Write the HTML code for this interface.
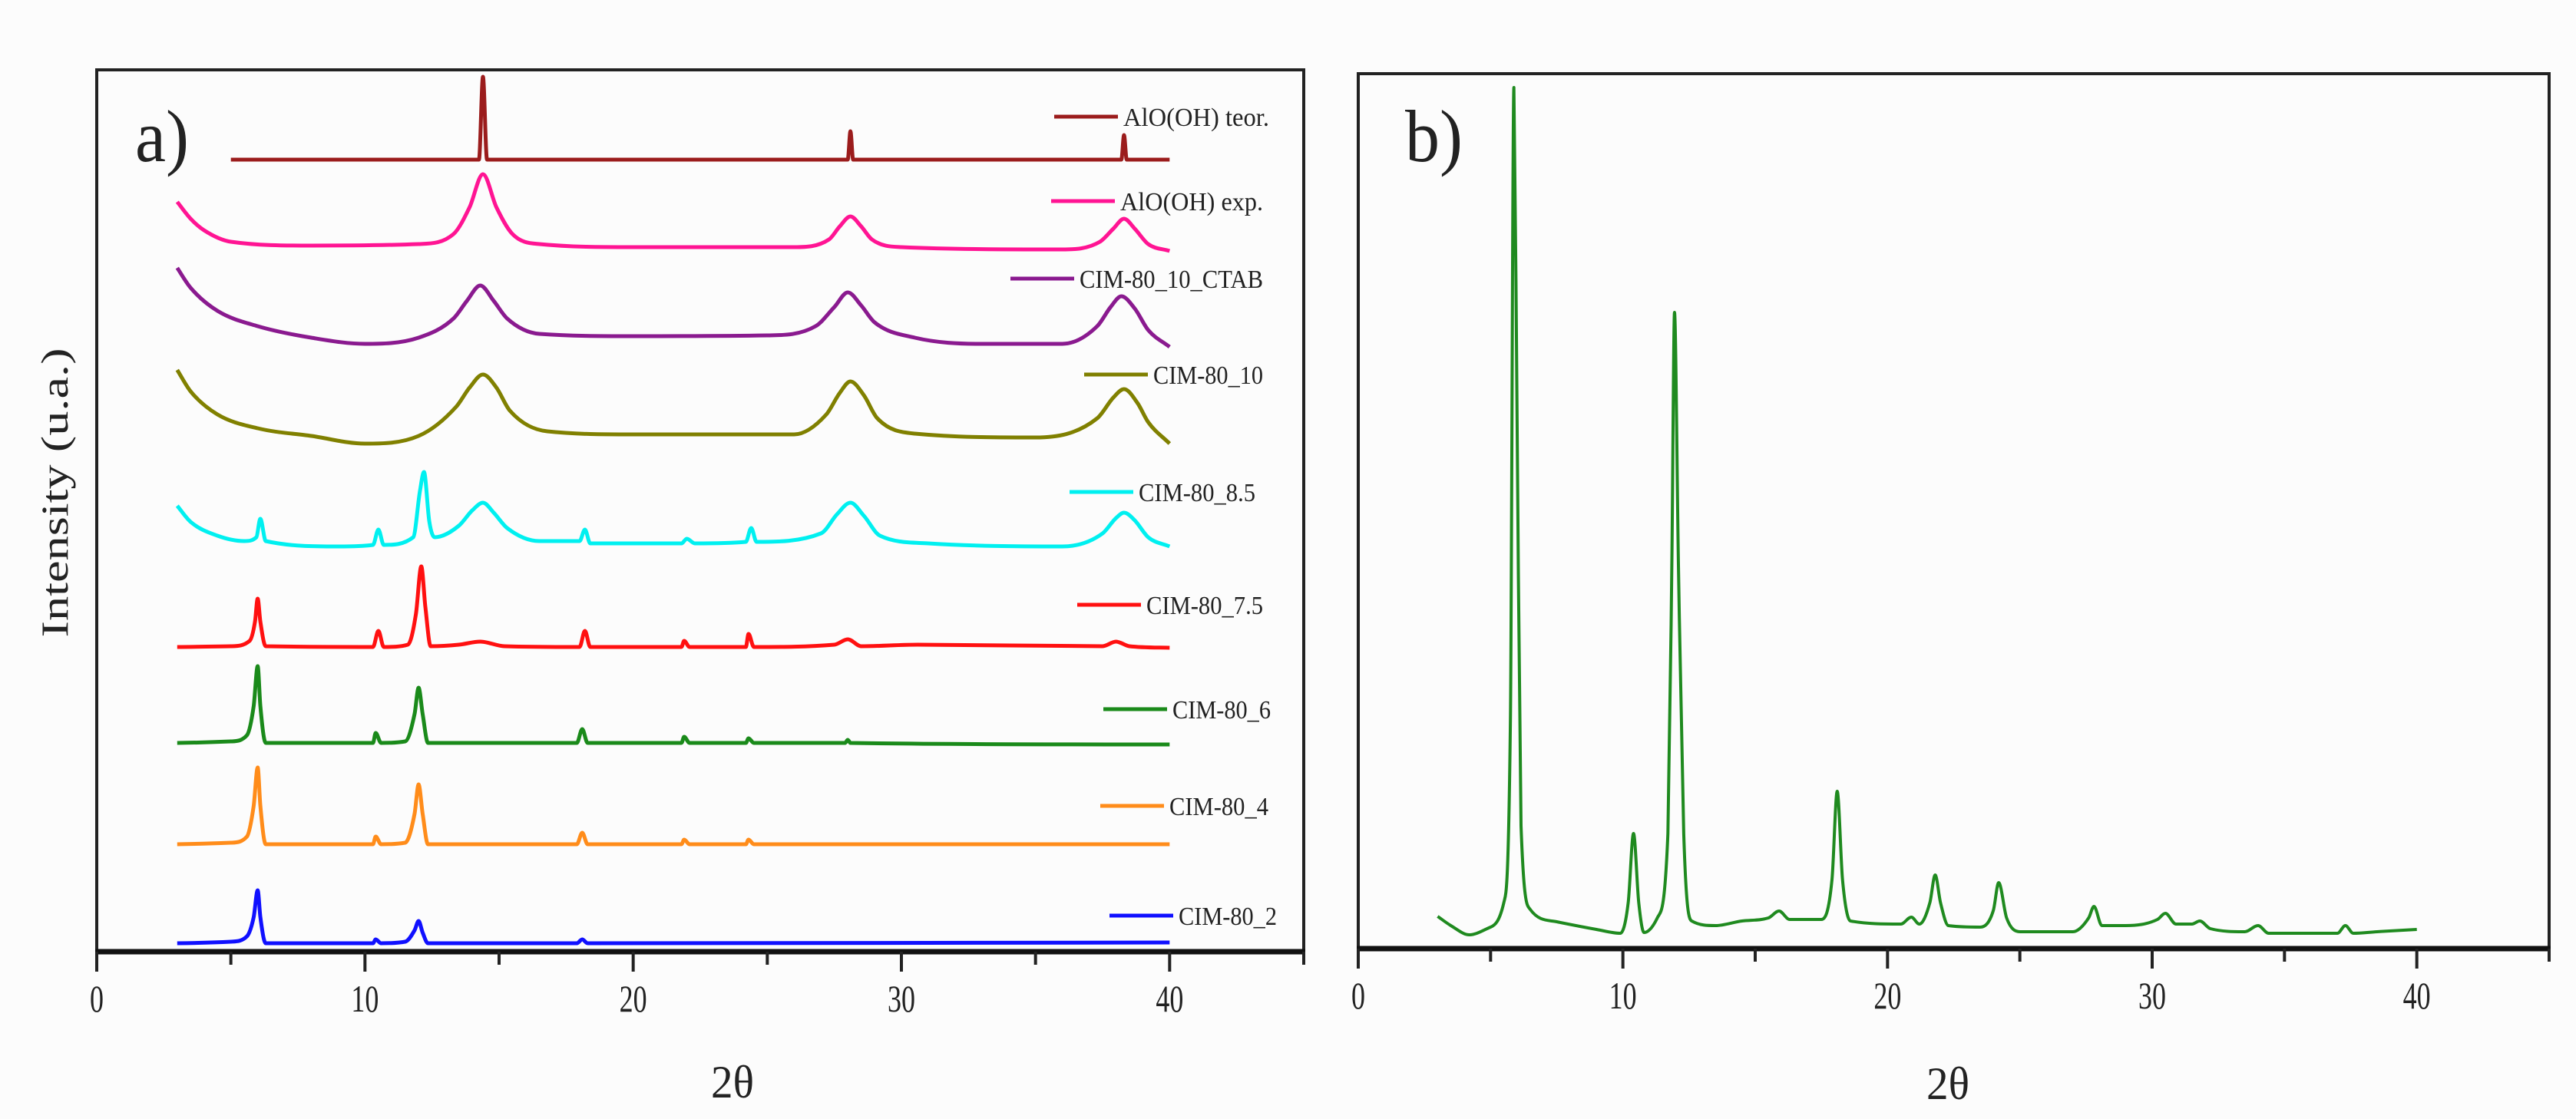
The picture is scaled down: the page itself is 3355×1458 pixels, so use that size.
<!DOCTYPE html>
<html><head><meta charset="utf-8"><style>
html,body{margin:0;padding:0;background:#fcfcfc;}
svg{display:block;}
text{font-family:"Liberation Serif",serif;fill:#222;}
</style></head><body>
<svg id="fig" width="3355" height="1458" viewBox="0 0 3355 1458">
<rect x="0" y="0" width="3355" height="1458" fill="#fcfcfc"/>
<g id="panelA"></g>
<g id="panelB"></g>
</svg>
<script>
// ---- data: panel a (stacked offset intensities, arbitrary units) ----
const xTicks = [0, 10, 20, 30, 40];
const minorTicks = [5, 15, 25, 35, 45];
const seriesNames = ["AlO(OH) teor.", "AlO(OH) exp.", "CIM-80_10_CTAB", "CIM-80_10", "CIM-80_8.5", "CIM-80_7.5", "CIM-80_6", "CIM-80_4", "CIM-80_2"];
const seriesColors = ["#9b1c1c", "#ff1493", "#8a1a8f", "#808000", "#00f0f0", "#ff1010", "#1a8a1a", "#ff8c1a", "#1010ff"];
const teorX = [5, 14.25, 14.4, 14.55, 28.0, 28.1, 28.2, 38.2, 38.3, 38.4, 40];
const teorY = [1032, 1032, 1140, 1032, 1032, 1069, 1032, 1032, 1064, 1032, 1032];
const expX = [3, 3.5, 4, 5, 8, 12, 13.3, 13.9, 14.4, 14.9, 15.5, 16.5, 20, 26, 27.3, 27.7, 28.1, 28.5, 28.9, 30, 36, 37.4, 37.9, 38.3, 38.7, 39.2, 40];
const expY = [977, 955, 940, 925, 920, 922, 935, 970, 1013, 970, 935, 922, 918, 918, 928, 945, 958, 945, 928, 918, 915, 925, 942, 955, 942, 922, 913];
const ctabX = [3, 3.5, 4.5, 6, 8, 10, 12, 13.3, 13.8, 14.3, 14.8, 15.3, 16.5, 20, 25, 26.8, 27.5, 28, 28.5, 29, 30.5, 33, 36, 37.3, 37.8, 38.2, 38.7, 39.2, 40];
const ctabY = [891, 865, 835, 815, 800, 792, 800, 825, 848, 868, 848, 825, 805, 802, 803, 815, 840, 859, 842, 820, 800, 792, 792, 815, 840, 854, 838, 810, 788];
const c10X = [3, 3.5, 4.5, 6, 8, 10, 12, 13.4, 13.9, 14.4, 14.9, 15.4, 16.8, 20, 26, 27.2, 27.7, 28.1, 28.6, 29.1, 30.5, 35, 37.3, 37.9, 38.3, 38.8, 39.2, 40];
const c10Y = [758, 730, 700, 682, 672, 662, 672, 710, 735, 752, 735, 705, 678, 674, 674, 700, 728, 743, 725, 695, 675, 670, 695, 722, 733, 715, 690, 662];
const c85X = [3, 3.5, 4.5, 5.5, 5.95, 6.1, 6.3, 9, 10.3, 10.5, 10.7, 11.8, 12.05, 12.2, 12.4, 12.6, 13.5, 14.0, 14.4, 14.8, 15.3, 16.5, 18.0, 18.2, 18.4, 21.8, 22, 22.3, 24.2, 24.4, 24.6, 27, 27.6, 28.1, 28.6, 29.2, 31, 36, 37.5, 38.0, 38.3, 38.7, 39.2, 40];
const c85Y = [581, 560, 542, 535, 540, 564, 535, 528, 530, 550, 530, 540, 600, 625, 560, 540, 555, 575, 585, 572, 552, 535, 535, 550, 532, 532, 538, 532, 534, 552, 534, 545, 570, 585, 568, 542, 532, 528, 545, 565, 572, 562, 540, 528];
const c75X = [3, 5, 5.7, 5.9, 6.0, 6.1, 6.3, 10.3, 10.5, 10.7, 11.6, 11.9, 12.1, 12.25, 12.45, 13.5, 14.3, 15.2, 18.0, 18.2, 18.4, 21.8, 21.9, 22.1, 24.2, 24.3, 24.5, 27.5, 28, 28.5, 30.6, 37.5, 38, 38.5, 40];
const c75Y = [397, 398, 405, 430, 460, 430, 398, 397, 418, 397, 400, 440, 502, 450, 398, 400, 404, 398, 397, 418, 397, 397, 405, 397, 397, 414, 397, 400, 407, 398, 400, 398, 404, 398, 396];
const c6X = [3, 5, 5.6, 5.85, 6.0, 6.1, 6.3, 10.3, 10.4, 10.6, 11.5, 11.85, 12.0, 12.15, 12.35, 17.9, 18.1, 18.3, 21.8, 21.9, 22.1, 24.2, 24.3, 24.5, 27.9, 28.0, 28.1, 40];
const c6Y = [272, 274, 282, 320, 372, 320, 272, 272, 285, 272, 274, 310, 344, 310, 272, 272, 290, 272, 272, 280, 272, 272, 278, 272, 272, 276, 272, 270];
const c4X = [3, 5, 5.6, 5.85, 6.0, 6.1, 6.3, 10.3, 10.4, 10.6, 11.5, 11.85, 12.0, 12.15, 12.35, 17.9, 18.1, 18.3, 21.8, 21.9, 22.1, 24.2, 24.3, 24.5, 40];
const c4Y = [140, 142, 150, 190, 240, 190, 140, 140, 150, 140, 142, 180, 218, 180, 140, 140, 155, 140, 140, 146, 140, 140, 146, 140, 140];
const c2X = [3, 5, 5.6, 5.85, 6.0, 6.1, 6.3, 10.3, 10.4, 10.6, 11.5, 11.85, 12.0, 12.15, 12.35, 17.9, 18.1, 18.3, 40];
const c2Y = [11, 13, 20, 45, 80, 45, 11, 11, 16, 11, 13, 28, 40, 25, 11, 11, 16, 11, 12];
const seriesX = [teorX, expX, ctabX, c10X, c85X, c75X, c6X, c4X, c2X];
const seriesY = [teorY, expY, ctabY, c10Y, c85Y, c75Y, c6Y, c4Y, c2Y];
// ---- data: panel b ----
const bX = [3, 3.5, 4.2, 5, 5.5, 5.75, 5.88, 6.0, 6.15, 6.5, 7.5, 9, 9.9, 10.2, 10.4, 10.6, 10.8, 11.3, 11.7, 11.85, 11.95, 12.1, 12.3, 12.6, 13.5, 14.5, 15.5, 15.9, 16.3, 17.5, 17.9, 18.1, 18.3, 18.6, 20.5, 20.9, 21.2, 21.6, 21.8, 22.0, 22.3, 23.5, 24.0, 24.2, 24.5, 25, 27, 27.6, 27.8, 28.1, 29, 30.2, 30.5, 30.9, 31.5, 31.8, 32.2, 33.5, 34, 34.4, 37, 37.3, 37.6, 38.5, 40];
const bY = [42, 30, 18, 28, 60, 300, 1122, 700, 160, 51, 35, 25, 20, 60, 150, 60, 21, 40, 150, 500, 829, 500, 150, 36, 30, 36, 40, 49, 38, 38, 90, 205, 90, 36, 32, 41, 32, 60, 96, 60, 30, 28, 50, 86, 40, 22, 22, 40, 55, 30, 30, 38, 46, 32, 32, 36, 26, 22, 30, 20, 20, 30, 20, 22, 25];
const legendYs = [152, 262, 363, 488, 641, 788, 924, 1050, 1193];
</script>
<script>
const NS = "http://www.w3.org/2000/svg";
function mk(parent, tag, attrs) { const e = document.createElementNS(NS, tag); for (const k in attrs) e.setAttribute(k, attrs[k]); parent.appendChild(e); return e; }
const A = {x0: 126, x1: 1698, top: 91, bottom: 1240, xmax: 45, ymax: 1149};
const B = {x0: 1769, x1: 3320, top: 96, bottom: 1236, xmax: 45, ymax: 1140};
function sx(P, v) { return P.x0 + (v / P.xmax) * (P.x1 - P.x0); }
function sy(P, v) { return P.bottom - (v / P.ymax) * (P.bottom - P.top); }

function drawAxes(g, P, name) {
  const box = mk(g, 'rect', {x: P.x0, y: P.top, width: P.x1 - P.x0, height: P.bottom - P.top, fill: 'none', stroke: '#222', 'stroke-width': 4});
  
  
  const ax = mk(g, 'line', {x1: P.x0 - 2, x2: P.x1 + 2, y1: P.bottom, y2: P.bottom, stroke: '#111', 'stroke-width': 7});
  
  
  xTicks.forEach(t => {
    const X = sx(P, t);
    const tk = mk(g, 'line', {x1: X, x2: X, y1: P.bottom, y2: P.bottom + 26, stroke: '#222', 'stroke-width': 4});
    
    
    const lb = mk(g, 'text', {x: X, y: P.bottom + 78, 'text-anchor': 'middle', 'font-size': 50, transform: `translate(${X} 0) scale(0.72 1) translate(${-X} 0)`});
    lb.textContent = t;
    
    
  });
  minorTicks.forEach(t => {
    const X = sx(P, t);
    const tk = mk(g, 'line', {x1: X, x2: X, y1: P.bottom, y2: P.bottom + 17, stroke: '#222', 'stroke-width': 4});
    
    
  });
}
// monotone cubic (Fritsch-Carlson) path through data points
function pathFor(P, xs, ys) {
  const px = xs.map(x => sx(P, x)), py = ys.map(y => sy(P, y));
  const n = px.length;
  if (n < 3) return px.map((x, i) => (i ? 'L' : 'M') + x + ' ' + py[i]).join(' ');
  const d = [], m = new Array(n);
  for (let i = 0; i < n - 1; i++) d.push((py[i + 1] - py[i]) / (px[i + 1] - px[i]));
  m[0] = d[0]; m[n - 1] = d[n - 2];
  for (let i = 1; i < n - 1; i++) m[i] = (d[i - 1] * d[i] <= 0) ? 0 : (d[i - 1] + d[i]) / 2;
  for (let i = 0; i < n - 1; i++) {
    if (d[i] === 0) { m[i] = 0; m[i + 1] = 0; continue; }
    const a = m[i] / d[i], b = m[i + 1] / d[i], s = a * a + b * b;
    if (s > 9) { const t = 3 / Math.sqrt(s); m[i] = t * a * d[i]; m[i + 1] = t * b * d[i]; }
  }
  let s = 'M' + px[0].toFixed(1) + ' ' + py[0].toFixed(1);
  for (let i = 0; i < n - 1; i++) {
    const h = (px[i + 1] - px[i]) / 3;
    s += ' C' + (px[i] + h).toFixed(1) + ' ' + (py[i] + m[i] * h).toFixed(1) + ' ' + (px[i + 1] - h).toFixed(1) + ' ' + (py[i + 1] - m[i + 1] * h).toFixed(1) + ' ' + px[i + 1].toFixed(1) + ' ' + py[i + 1].toFixed(1);
  }
  return s;
}

const gA = document.getElementById('panelA');
drawAxes(gA, A, 'panel-a');
seriesNames.forEach((nm, i) => {
  const p = mk(gA, 'path', {d: pathFor(A, seriesX[i], seriesY[i]), fill: 'none', stroke: seriesColors[i], 'stroke-width': 5, 'stroke-linejoin': 'round'});
  
  
  const ly = legendYs[i];
  const tx = [1463, 1459, 1406, 1502, 1483, 1493, 1527, 1523, 1535][i];
  const tw = [190, 186, 239, 143, 152, 152, 128, 129, 128][i];
  const ll = mk(gA, 'line', {x1: tx - 90, x2: tx - 7, y1: ly, y2: ly, stroke: seriesColors[i], 'stroke-width': 5});
  
  
  const lt = mk(gA, 'text', {x: tx, y: ly + 12, 'font-size': 34, textLength: tw, lengthAdjust: 'spacingAndGlyphs'});
  lt.textContent = nm;
  
  
});
const la = mk(gA, 'text', {x: 176, y: 210, 'font-size': 96, textLength: 70, lengthAdjust: 'spacingAndGlyphs'});
la.textContent = 'a)';


const yt = mk(gA, 'text', {x: 0, y: 0, 'font-size': 50, 'text-anchor': 'middle', textLength: 377, lengthAdjust: 'spacingAndGlyphs', transform: 'translate(88 642) rotate(-90)'});
yt.textContent = 'Intensity (u.a.)';


const xtA = mk(gA, 'text', {x: 954, y: 1430, 'font-size': 60, 'text-anchor': 'middle', textLength: 56, lengthAdjust: 'spacingAndGlyphs'});
xtA.textContent = '2θ';



const gB = document.getElementById('panelB');
drawAxes(gB, B, 'panel-b');
const pb = mk(gB, 'path', {d: pathFor(B, bX, bY), fill: 'none', stroke: '#1f8a1f', 'stroke-width': 4, 'stroke-linejoin': 'round'});


const lbB = mk(gB, 'text', {x: 1830, y: 210, 'font-size': 96, textLength: 75, lengthAdjust: 'spacingAndGlyphs'});
lbB.textContent = 'b)';


const xtB = mk(gB, 'text', {x: 2537, y: 1432, 'font-size': 60, 'text-anchor': 'middle', textLength: 56, lengthAdjust: 'spacingAndGlyphs'});
xtB.textContent = '2θ';


</script>
</body></html>
